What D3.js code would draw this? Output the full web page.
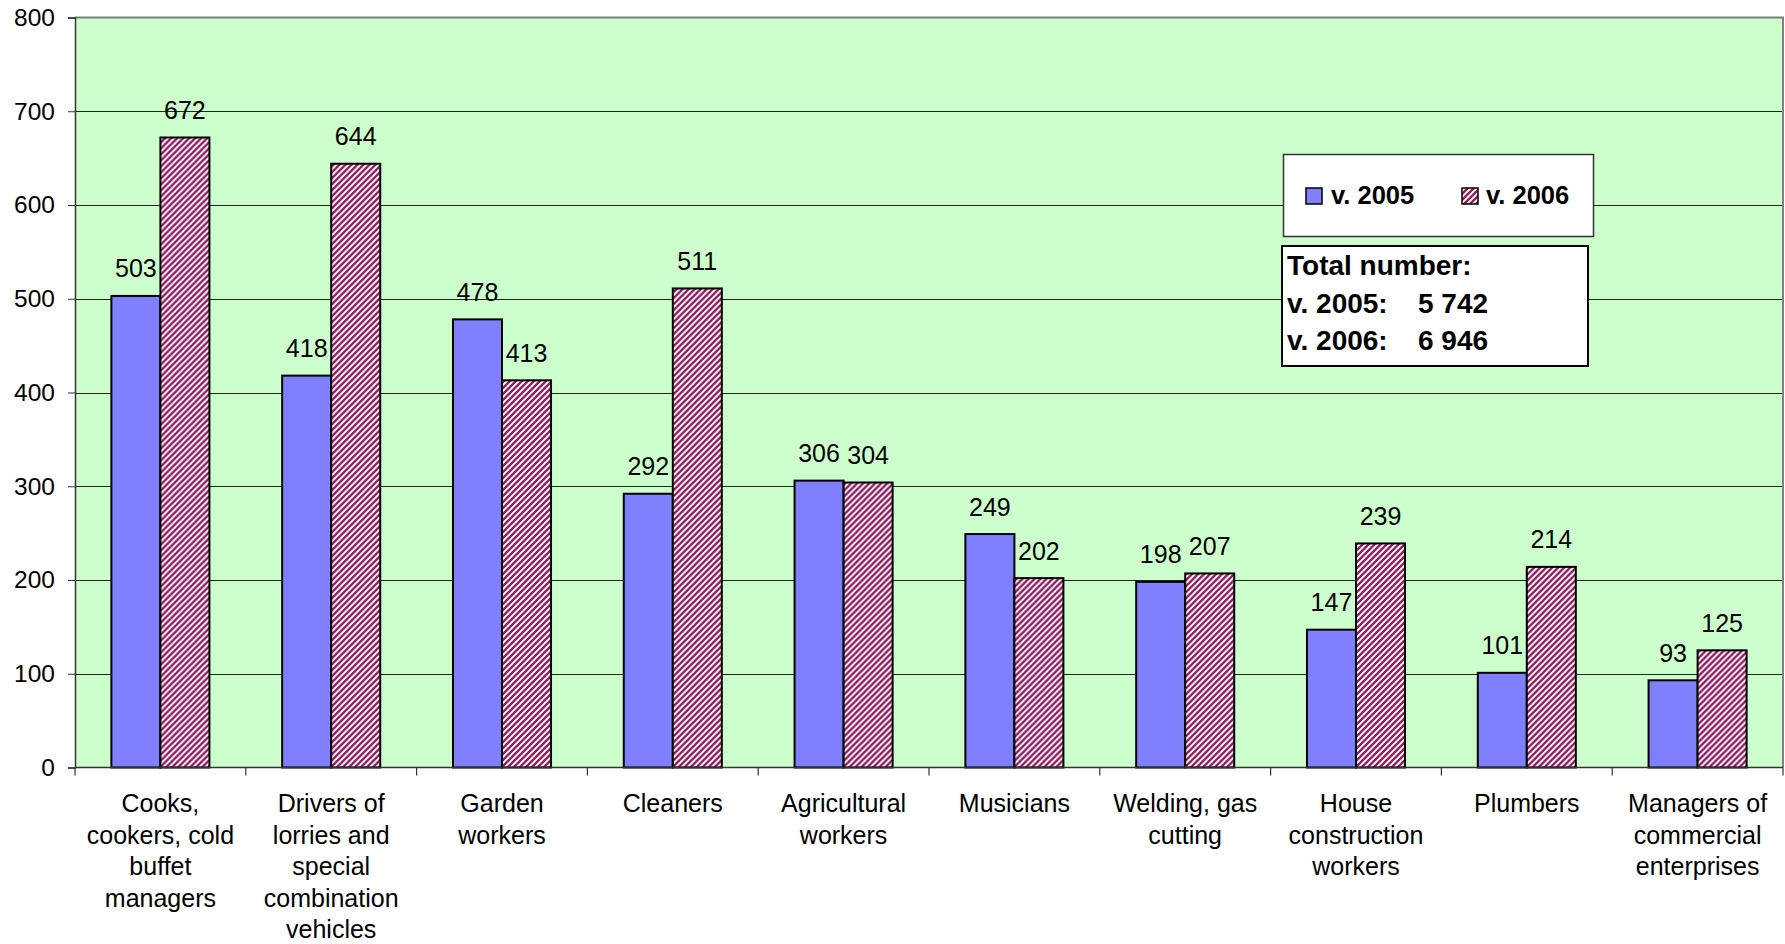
<!DOCTYPE html>
<html>
<head>
<meta charset="utf-8">
<script src="https://cdn.jsdelivr.net/npm/d3@7"></script>
<style>
  html, body { margin: 0; padding: 0; background: #ffffff; }
  svg { display: block; font-family: "Liberation Sans", Arial, sans-serif; }
</style>
</head>
<body>
<svg id="chart" width="1785" height="944"></svg>
<script>
// ---- data ----
const categories = [
  "Cooks, cookers, cold buffet managers",
  "Drivers of lorries and special combination vehicles",
  "Garden workers",
  "Cleaners",
  "Agricultural workers",
  "Musicians",
  "Welding, gas cutting",
  "House construction workers",
  "Plumbers",
  "Managers of commercial enterprises"
];
const categoryLines = [
  ["Cooks,", "cookers, cold", "buffet", "managers"],
  ["Drivers of", "lorries and", "special", "combination", "vehicles"],
  ["Garden", "workers"],
  ["Cleaners"],
  ["Agricultural", "workers"],
  ["Musicians"],
  ["Welding, gas", "cutting"],
  ["House", "construction", "workers"],
  ["Plumbers"],
  ["Managers of", "commercial", "enterprises"]
];
const seriesNames = ["v. 2005", "v. 2006"];
const values2005 = [503, 418, 478, 292, 306, 249, 198, 147, 101, 93];
const values2006 = [672, 644, 413, 511, 304, 202, 207, 239, 214, 125];
const yTicks = [0, 100, 200, 300, 400, 500, 600, 700, 800];
const totalsTitle = "Total number:";
const totalsLabels = ["v. 2005:", "v. 2006:"];
const totalsValues = ["5 742", "6 946"];

// ---- layout ----
const svg = d3.select("#chart");
const plot = { left: 75, right: 1783, top: 17.5, bottom: 767.5 };

const defs = svg.append("defs");
const pat = defs.append("pattern")
  .attr("id", "hatch")
  .attr("patternUnits", "userSpaceOnUse")
  .attr("width", 6).attr("height", 6);
pat.append("rect").attr("width", 6).attr("height", 6).attr("fill", "#ffffff");
pat.append("path")
  .attr("d", "M-1,1 L1,-1 M0,6 L6,0 M5,7 L7,5")
  .attr("stroke", "#8f1f60").attr("stroke-width", 2.4);

const colors = ["#8080ff", "url(#hatch)"];

const x0 = d3.scaleBand()
  .domain(d3.range(categories.length))
  .range([plot.left, plot.right])
  .paddingInner(0.426)
  .paddingOuter(0.213);
const x1 = d3.scaleBand()
  .domain([0, 1])
  .range([0, x0.bandwidth()]);
const y = d3.scaleLinear().domain([0, 800]).range([plot.bottom, plot.top]);

// plot background
svg.append("rect")
  .attr("x", plot.left).attr("y", plot.top)
  .attr("width", plot.right - plot.left).attr("height", plot.bottom - plot.top)
  .attr("fill", "#ccffcc");

// gridlines
svg.append("g").selectAll("line")
  .data(yTicks.filter(d => d > 0 && d < 800))
  .join("line")
  .attr("x1", plot.left).attr("x2", plot.right)
  .attr("y1", d => Math.round(y(d)) + 0.5).attr("y2", d => Math.round(y(d)) + 0.5)
  .attr("stroke", "#222").attr("stroke-width", 1);

// plot border (top and right)
svg.append("path")
  .attr("d", `M${plot.left},${plot.top} L${plot.right},${plot.top} L${plot.right},${plot.bottom}`)
  .attr("fill", "none").attr("stroke", "#808080").attr("stroke-width", 2);

// bars
const data = categories.map((c, i) => [values2005[i], values2006[i]]);
const groups = svg.append("g").selectAll("g")
  .data(data)
  .join("g")
  .attr("transform", (d, i) => `translate(${x0(i)},0)`);

groups.selectAll("rect")
  .data(d => d.map((v, s) => ({ v, s })))
  .join("rect")
  .attr("x", d => x1(d.s))
  .attr("y", d => y(d.v))
  .attr("width", x1.bandwidth())
  .attr("height", d => y(0) - y(d.v))
  .attr("fill", d => colors[d.s])
  .attr("stroke", "#000").attr("stroke-width", 2);

groups.selectAll("text")
  .data(d => d.map((v, s) => ({ v, s })))
  .join("text")
  .attr("x", d => x1(d.s) + x1.bandwidth() / 2)
  .attr("y", d => y(d.v) - 18.5)
  .attr("text-anchor", "middle")
  .attr("font-size", 25)
  .attr("fill", "#000")
  .text(d => d.v);

// y axis
const yAxis = d3.axisLeft(y).tickValues(yTicks).tickSize(7).tickPadding(13).tickFormat(d3.format("d"));
const yg = svg.append("g").attr("transform", `translate(${plot.left},0)`).call(yAxis);
yg.select(".domain").attr("stroke", "#333").attr("stroke-width", 1.5);
yg.selectAll(".tick line").attr("stroke", "#333");
yg.selectAll(".tick text").attr("font-size", 24.5).attr("font-family", "Liberation Sans, Arial, sans-serif").attr("fill", "#000");

// x axis
svg.append("line")
  .attr("x1", plot.left).attr("x2", plot.right)
  .attr("y1", plot.bottom).attr("y2", plot.bottom)
  .attr("stroke", "#333").attr("stroke-width", 1.5);
const step = x0.step();
svg.append("g").selectAll("line")
  .data(d3.range(categories.length + 1))
  .join("line")
  .attr("x1", i => plot.left + i * step).attr("x2", i => plot.left + i * step)
  .attr("y1", plot.bottom).attr("y2", plot.bottom + 8)
  .attr("stroke", "#333").attr("stroke-width", 1.2);

const labels = svg.append("g").selectAll("text")
  .data(categoryLines)
  .join("text")
  .attr("text-anchor", "middle")
  .attr("font-size", 25)
  .attr("fill", "#000");
labels.each(function(lines, i) {
  const cx = x0(i) + x0.bandwidth() / 2;
  d3.select(this).selectAll("tspan")
    .data(lines)
    .join("tspan")
    .attr("x", cx)
    .attr("y", (d, k) => 812 + k * 31.5)
    .text(d => d);
});

// legend box
const lg = svg.append("g");
lg.append("rect")
  .attr("x", 1283.5).attr("y", 154.5).attr("width", 310).attr("height", 82)
  .attr("fill", "#fff").attr("stroke", "#333").attr("stroke-width", 1.5);
const legendItems = [
  { x: 1306, tx: 1331 },
  { x: 1462, tx: 1486 }
];
seriesNames.forEach((name, s) => {
  lg.append("rect")
    .attr("x", legendItems[s].x).attr("y", 188).attr("width", 16).attr("height", 16)
    .attr("fill", colors[s]).attr("stroke", "#000").attr("stroke-width", 1.5);
  lg.append("text")
    .attr("x", legendItems[s].tx).attr("y", 204)
    .attr("font-size", 25.5).attr("font-weight", "bold").attr("fill", "#000")
    .text(name);
});

// totals box
const tb = svg.append("g");
tb.append("rect")
  .attr("x", 1282).attr("y", 246).attr("width", 306).attr("height", 120)
  .attr("fill", "#fff").attr("stroke", "#000").attr("stroke-width", 2);
tb.append("text")
  .attr("x", 1287).attr("y", 275)
  .attr("font-size", 28).attr("font-weight", "bold").attr("fill", "#000")
  .text(totalsTitle);
totalsLabels.forEach((lab, k) => {
  tb.append("text")
    .attr("x", 1287).attr("y", 312.5 + k * 37.5)
    .attr("font-size", 28).attr("font-weight", "bold").attr("fill", "#000")
    .text(lab);
  tb.append("text")
    .attr("x", 1418).attr("y", 312.5 + k * 37.5)
    .attr("font-size", 28).attr("font-weight", "bold").attr("fill", "#000")
    .text(totalsValues[k]);
});
</script>
</body>
</html>
